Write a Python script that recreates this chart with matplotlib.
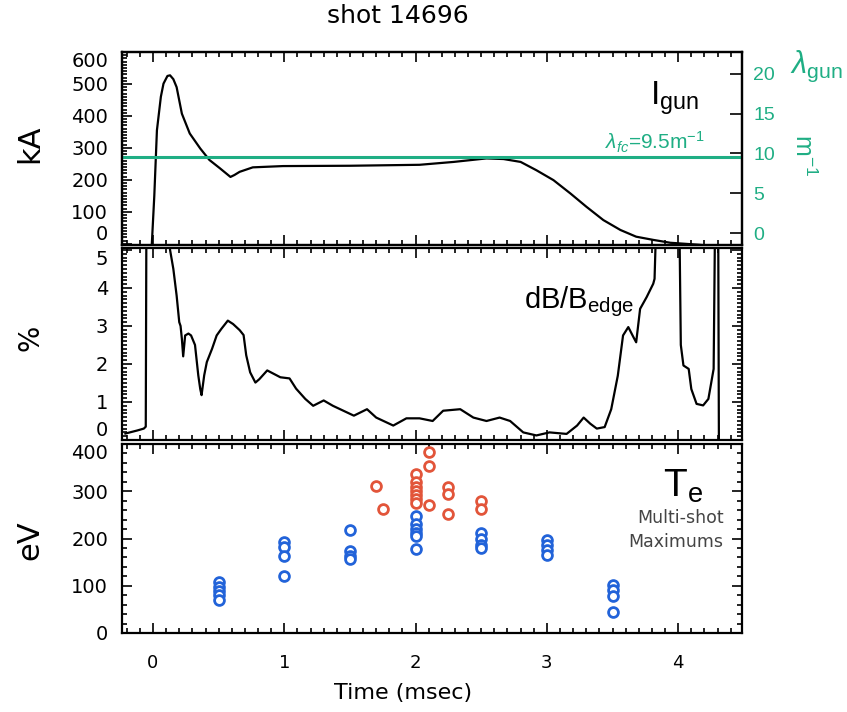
import matplotlib
matplotlib.use("Agg")
import matplotlib.pyplot as plt
from matplotlib.ticker import MultipleLocator

plt.rcParams["mathtext.fontset"] = "custom"
plt.rcParams["mathtext.rm"] = "Liberation Sans"
plt.rcParams["mathtext.it"] = "Liberation Sans:italic"
plt.rcParams["mathtext.bf"] = "Liberation Sans:bold"

# gun current (kA) vs time (msec)
igun_t = [-0.01, 0.01, 0.03, 0.06, 0.08, 0.11, 0.13, 0.155, 0.18, 0.22, 0.28,
          0.36, 0.43, 0.51, 0.59, 0.62, 0.66, 0.76, 0.99, 1.5, 2.03, 2.29,
          2.54, 2.67, 2.80, 2.92, 3.05, 3.18, 3.30, 3.43, 3.56, 3.68, 3.81,
          3.94, 4.01, 4.15, 4.30, 4.40]
igun_ka = [-10, 150, 355, 460, 501, 525, 527, 515, 490, 407, 345,
           298, 262, 236, 209, 215, 225, 239, 243, 244, 247, 256,
           267, 265, 256, 230, 199, 157, 116, 74, 43, 22, 12,
           3, 1, -3, -8, -15]

# edge magnetic fluctuation level (%)
db_t = [-0.21, -0.12, -0.07, -0.055, -0.05, 0.0, 0.10, 0.13, 0.155, 0.18,
        0.20, 0.21, 0.22, 0.23, 0.245, 0.27, 0.29, 0.32, 0.345, 0.36, 0.37,
        0.39, 0.41, 0.45, 0.485, 0.52, 0.57, 0.61, 0.66, 0.69, 0.71, 0.74,
        0.78, 0.81, 0.87, 0.92, 0.97, 1.04, 1.09, 1.16, 1.22, 1.30, 1.37,
        1.45, 1.53, 1.63, 1.70, 1.83, 1.93, 2.03, 2.13, 2.21, 2.34, 2.44,
        2.54, 2.64, 2.72, 2.82, 2.92, 3.02, 3.15, 3.23, 3.28, 3.33, 3.38,
        3.44, 3.49, 3.54, 3.58, 3.62, 3.66, 3.68, 3.71, 3.76, 3.81, 3.82,
        3.835, 3.9, 4.0, 4.01, 4.02, 4.04, 4.08, 4.10, 4.14, 4.19, 4.23,
        4.27, 4.28, 4.30, 4.305, 4.31]
db_pct = [0.17, 0.25, 0.30, 0.35, 6.0, 8.0, 8.0, 5.0, 4.5, 3.8,
          3.1, 3.0, 2.66, 2.2, 2.75, 2.8, 2.75, 2.5, 1.7, 1.34, 1.18,
          1.7, 2.05, 2.4, 2.75, 2.92, 3.14, 3.05, 2.89, 2.76, 2.23, 1.78,
          1.51, 1.6, 1.83, 1.74, 1.65, 1.62, 1.35, 1.08, 0.9, 1.04, 0.9,
          0.77, 0.64, 0.81, 0.59, 0.38, 0.57, 0.57, 0.5, 0.77, 0.81, 0.59,
          0.5, 0.59, 0.5, 0.2, 0.12, 0.2, 0.16, 0.38, 0.59, 0.43, 0.3,
          0.34, 0.81, 1.69, 2.75, 2.97, 2.7, 2.57, 3.45, 3.76, 4.11, 4.24,
          6.0, 8.0, 8.0, 5.5, 2.5, 1.96, 1.87, 1.34, 0.95, 0.91, 1.08,
          1.87, 5.5, 8.0, 5.5, 0.0]

# multi-shot electron temperature maxima (eV)
te_blue_t = [0.5] * 5 + [1.0] * 4 + [1.5] * 4 + [2.0] * 6 + [2.5] * 4 + [3.0] * 4 + [3.5] * 4
te_blue_ev = [108, 97, 88, 80, 70,
              192, 183, 162, 120,
              218, 173, 164, 157,
              247, 230, 220, 212, 205, 178,
              211, 198, 187, 180,
              197, 186, 176, 165,
              102, 91, 79, 45]
te_red_t = [1.7, 1.75] + [2.0] * 7 + [2.1] * 3 + [2.25] * 3 + [2.5] * 2
te_red_ev = [311, 262,
             336, 320, 310, 300, 292, 283, 275,
             384, 353, 270,
             308, 294, 251,
             279, 262]

lambda_fc = 9.5

igun_ticks = [0, 100, 200, 300, 400, 500, 600]
db_ticks = [0, 1, 2, 3, 4, 5]
te_ticks = [0, 100, 200, 300, 400]

GREEN = "#1fae84"
BLUE = "#2263d9"
RED = "#e2553a"

W, H = 847, 712
fig = plt.figure(figsize=(W / 100, H / 100), dpi=100)


def panel(top, bottom):
    return fig.add_axes([122 / W, 1 - bottom / H, 620 / W, (bottom - top) / H])


def style(ax, yticks, yminor, show_x=False):
    ax.set_xlim(-0.236, 4.486)
    ax.xaxis.set_major_locator(MultipleLocator(1))
    ax.xaxis.set_minor_locator(MultipleLocator(0.1))
    ax.set_yticks(yticks)
    ax.yaxis.set_minor_locator(MultipleLocator(yminor))
    ax.tick_params(which="both", direction="in", top=True, bottom=True,
                   left=True, right=True, width=1.2)
    ax.tick_params(which="major", length=7)
    ax.tick_params(which="minor", length=3.5)
    ax.tick_params(axis="y", labelsize=14, pad=10)
    ax.tick_params(axis="x", labelsize=13, pad=15, labelbottom=show_x)
    for s in ax.spines.values():
        s.set_linewidth(1.6)


def squeeze_end_labels(ax, low=True, high=True):
    # keep the end labels inside their own panel so stacked panels don't collide
    ticks = ax.yaxis.get_major_ticks()
    if low:
        ticks[0].label1.set_va("bottom")
    if high:
        ticks[-1].label1.set_va("top")


def ftext(x, y, s, **kw):
    fig.text(x / W, 1 - y / H, s, **kw)


# --- gun current ---
ax1 = panel(52, 245)
ax1.plot(igun_t, igun_ka, color="black", lw=1.6)
ax1.set_ylim(-4, 600)
style(ax1, igun_ticks, 10)
ax1.tick_params(which="both", right=False)
squeeze_end_labels(ax1)

ax1r = ax1.twinx()
ax1r.set_ylim(-1.45, 22.7)
ax1r.axhline(lambda_fc, color=GREEN, lw=2.2)
ax1r.yaxis.set_major_locator(MultipleLocator(5))
ax1r.tick_params(axis="y", direction="in", length=9, width=1.2, pad=8,
                 labelsize=14, labelcolor=GREEN)
for lab in ax1r.get_yticklabels():
    lab.set_fontfamily("Liberation Sans")
for s in ax1r.spines.values():
    s.set_linewidth(1.6)

ax1.text(0.93, 0.76, r"$\mathrm{I_{gun}}$", transform=ax1.transAxes,
         fontsize=24, ha="right", va="center")
ax1.text(0.94, 0.53, r"$\lambda_{fc}$=9.5m$^{-1}$", transform=ax1.transAxes,
         fontsize=15, ha="right", va="center", color=GREEN,
         family="Liberation Sans")

# --- edge fluctuations ---
ax2 = panel(248, 440)
ax2.plot(db_t, db_pct, color="black", lw=1.6)
ax2.set_ylim(0, 5.05)
style(ax2, db_ticks, 0.1)
squeeze_end_labels(ax2)
ax2.text(0.825, 0.72, r"$\mathrm{dB/B_{edge}}$", transform=ax2.transAxes,
         fontsize=21, ha="right", va="center")

# --- electron temperature ---
ax3 = panel(444, 633)
ax3.scatter(te_red_t, te_red_ev, s=50, facecolors="white", edgecolors=RED,
            linewidths=2.0, zorder=3)
ax3.scatter(te_blue_t, te_blue_ev, s=50, facecolors="white", edgecolors=BLUE,
            linewidths=2.0, zorder=3)
ax3.set_ylim(0, 400)
style(ax3, te_ticks, 20, show_x=True)
squeeze_end_labels(ax3, low=False)
ax3.text(0.905, 0.78, r"$\mathrm{T_e}$", transform=ax3.transAxes,
         fontsize=28, ha="center", va="center")
ax3.text(0.97, 0.61, "Multi-shot", transform=ax3.transAxes,
         fontsize=12.5, ha="right", va="center", color="#444444")
ax3.text(0.97, 0.48, "Maximums", transform=ax3.transAxes,
         fontsize=12.5, ha="right", va="center", color="#444444")

# figure-level labels
ftext(398, 16, "shot 14696", fontsize=18, ha="center", va="center")
ftext(403, 693, "Time (msec)", fontsize=16, ha="center", va="center")
ftext(30, 144, "kA", fontsize=22, rotation=90, ha="center", va="center")
ftext(30, 338, "%", fontsize=20, rotation=90, ha="center", va="center")
ftext(30, 540, "eV", fontsize=22, rotation=90, ha="center", va="center")
ftext(816, 66, r"$\lambda_{\mathrm{gun}}$", fontsize=22, color=GREEN,
      ha="center", va="center")
ftext(803, 155, r"$\mathrm{m^{-1}}$", fontsize=18, color=GREEN, rotation=-90,
      ha="center", va="center")

fig.savefig("out.png", dpi=100)
